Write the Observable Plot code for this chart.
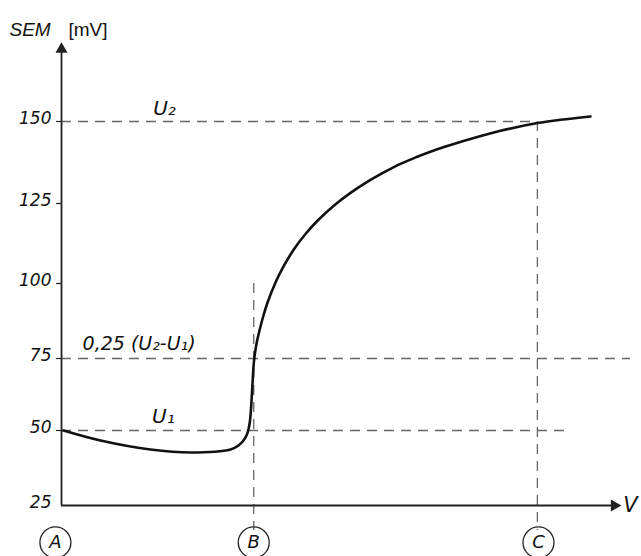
<!DOCTYPE html>
<html>
<head>
<meta charset="utf-8">
<script src="https://cdn.jsdelivr.net/npm/d3@7"></script>
<script src="https://cdn.jsdelivr.net/npm/@observablehq/plot@0.6"></script>
<style>
  html, body { margin: 0; padding: 0; background: #fff; }
  #chart svg { display: block; }
</style>
</head>
<body>
<div id="chart"></div>
<script>
// ---- data ----
const curveX = [0.36, 7.04, 16.06, 23.29, 30.51, 31.95, 32.85, 33.39, 33.75, 34.03, 34.21, 34.39, 34.55, 34.69, 34.84, 35.05, 35.32, 35.65, 35.92, 36.46, 37.13, 38.63, 40.13, 41.93, 44.04, 46.16, 49.15, 52.17, 55.18, 58.18, 61.19, 64.21, 67.2, 70.22, 74.73, 79.24, 85.92, 90.07, 95.49];
const curveY = [50, 46.67, 43.67, 42.67, 43.67, 45.0, 46.67, 48.33, 50.35, 53.47, 57.64, 63.19, 68.75, 72.92, 75.67, 78.33, 81, 83.67, 85.67, 89.33, 93.33, 100.31, 105.47, 110.63, 115.47, 119.53, 124.31, 128.23, 131.59, 134.48, 137.1, 139.24, 141.16, 142.84, 145.12, 147.16, 149.54, 150.52, 151.52];

const yTicks = [25, 50, 75, 100, 125, 150];
const levelValues = [150, 75, 50];
const levelEnds = [85.9, 102.7, 91.5];
const pointNames = ["A", "B", "C"];
const pointX = [-1.1, 34.7, 86.1];
const guideX = [34.7, 85.9];
const guideTop = [100, 150];
const axisBottom = 16.7;
const letterRow = 12.7;
const yTop = 172;
const xEnd = 99.8;

const curve = curveX.map((x, i) => ({x, y: curveY[i]}));
const levels = levelValues.map((y, i) => ({y, x2: levelEnds[i]}));
const guides = guideX.map((x, i) => ({x, y1: guideTop[i], y2: axisBottom}));
const points = pointNames.map((n, i) => ({n, x: pointX[i]}));

const font = "DejaVu Sans, sans-serif";
const dash = "10,7";

const plot = Plot.plot({
  width: 641,
  height: 556,
  marginTop: 0, marginRight: 0, marginBottom: 0, marginLeft: 0,
  style: {fontFamily: font, background: "#fff"},
  x: {type: "linear", domain: [0, 100], range: [61, 615], axis: null},
  y: {type: "linear", domain: yTicks, range: [505, 430, 358, 283, 203, 121], axis: null},
  marks: [
    // dashed reference levels
    Plot.ruleY(levels, {y: "y", x1: 0, x2: "x2", stroke: "#666", strokeWidth: 1.3, strokeDasharray: dash}),
    Plot.ruleX(guides, {x: "x", y1: "y1", y2: "y2", stroke: "#666", strokeWidth: 1.3, strokeDasharray: dash}),
    // axes
    Plot.ruleX([0], {x: d => d, y1: 25, y2: yTop, stroke: "#222", strokeWidth: 1.8}),
    Plot.ruleY([25], {y: d => d, x1: 0, x2: xEnd, stroke: "#222", strokeWidth: 1.8}),
    Plot.dot([0], {x: d => d, y: () => yTop, symbol: "triangle", r: 4.5, fill: "#222", stroke: "none"}),
    Plot.dot([xEnd], {x: d => d, y: () => 25, symbol: "triangle", r: 4.5, rotate: 90, fill: "#222", stroke: "none"}),
    // y ticks
    Plot.ruleY(yTicks.slice(1), {y: d => d, x1: () => -0.9, x2: () => 0, stroke: "#222", strokeWidth: 1.2}),
    Plot.text(yTicks, {y: d => d, x: () => 0, text: d => String(d), textAnchor: "end", dx: -10, dy: -3, fontSize: 17, fontStyle: "italic", fill: "#111"}),
    // curve
    Plot.line(curve, {x: "x", y: "y", curve: "catmull-rom", stroke: "#111", strokeWidth: 2.6}),
    // labels
    Plot.text(["U₂"], {x: () => 18.6, y: () => 150, dy: -13, fontSize: 20, fontStyle: "italic", fill: "#111"}),
    Plot.text(["U₁"], {x: () => 18.4, y: () => 50, dy: -14, fontSize: 20, fontStyle: "italic", fill: "#111"}),
    Plot.text(["0,25 (U₂-U₁)"], {x: () => 3.8, y: () => 75, dy: -15, textAnchor: "start", fontSize: 19, fontStyle: "italic", fill: "#111"}),
    Plot.text(["V"], {x: () => xEnd, y: () => 25, dx: 16, fontSize: 21, fontStyle: "italic", fill: "#111"}),
    Plot.text(["SEM"], {frameAnchor: "top-left", dx: 9, dy: 22, textAnchor: "start", fontSize: 19, fontFamily: "Liberation Sans, Arial, sans-serif", fontStyle: "italic", fill: "#111"}),
    Plot.text(["[mV]"], {frameAnchor: "top-left", dx: 68, dy: 22, textAnchor: "start", fontSize: 19, fontFamily: "Liberation Sans, Arial, sans-serif", fill: "#111"}),
    // circled points A, B, C
    Plot.dot(points, {x: "x", y: () => letterRow, r: 15.5, stroke: "#222", strokeWidth: 1.3, fill: "none"}),
    Plot.text(points, {x: "x", y: () => letterRow, text: "n", fontSize: 18, fontStyle: "italic", fill: "#111"})
  ]
});

document.getElementById("chart").appendChild(plot);
</script>
</body>
</html>
